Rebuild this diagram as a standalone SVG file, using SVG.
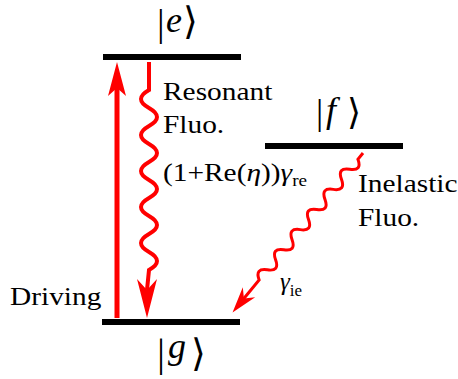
<svg xmlns="http://www.w3.org/2000/svg" width="458" height="379" viewBox="0 0 458 379">
<style>
.lvl{stroke:#000;stroke-width:6;fill:none}
text{font-family:'Liberation Serif','Times New Roman',serif;fill:#000}
.br{font-family:'DejaVu Serif',serif}
.it{font-style:italic}
.lb{font-size:26px}
.red{stroke:#ff0000;fill:none;stroke-linecap:butt}
.head{fill:#ff0000;stroke:none}
</style>
<rect width="458" height="379" fill="#fff"/>
<g id="level-e">
<line class="lvl" x1="103" y1="57" x2="241" y2="57"/>
<text x="157" y="36" font-size="38">|</text>
<text class="it" x="166" y="32" font-size="36">e</text>
<text class="br" x="183" y="34" font-size="38">⟩</text>
</g>
<g id="level-f">
<line class="lvl" x1="265" y1="146" x2="403" y2="146"/>
<text x="316" y="124" font-size="36">|</text>
<text class="it" x="326" y="122" font-size="36">f</text>
<text class="br" x="347" y="124" font-size="36">⟩</text>
</g>
<g id="level-g">
<line class="lvl" x1="102" y1="322" x2="240" y2="322"/>
<text x="157" y="366" font-size="40">|</text>
<text class="it" x="168" y="358" font-size="36">g</text>
<text class="br" x="191" y="366" font-size="38">⟩</text>
</g>
<g id="connectors">
<g id="driving">
<line class="red" x1="117" y1="318" x2="117" y2="88" stroke-width="5"/>
<polygon class="head" points="117,62 126,96 117,88 108,96"/>
</g>
<g id="resonant">
<path class="red" stroke-width="4" d="M149,62 L149,90 q-16,9 0,18 t0,18 t0,18 t0,18 t0,18 t0,18 t0,18 t0,18 t0,18 t0,18 L147,290"/>
<polygon class="head" points="147,318 157,279 147,290 137,279"/>
</g>
<g id="inelastic" transform="translate(363,153) rotate(129.3)">
<path class="red" stroke-width="3" d="M0,0 L8,0 q6.5,-11 13,0 t13,0 t13,0 t13,0 t13,0 t13,0 t13,0 t13,0 t13,0 t13,0 t13,0 t13,0 L190,0"/>
<polygon class="head" points="206,0 180,-8 188,0 180,8"/>
</g>
</g>
<g id="labels">
<text class="lb" transform="translate(163,100) scale(1.13,1)">Resonant</text>
<text class="lb" transform="translate(163,133) scale(1.13,1)">Fluo.</text>
<text class="lb" transform="translate(163,181) scale(1.13,1)">(1+Re(<tspan class="it">η</tspan>))<tspan class="it">γ</tspan><tspan font-size="17" dy="5">re</tspan></text>
<text class="lb" transform="translate(358,192) scale(1.13,1)">Inelastic</text>
<text class="lb" transform="translate(358,226) scale(1.13,1)">Fluo.</text>
<text x="280" y="290" font-size="25"><tspan class="it">γ</tspan><tspan font-size="17" dy="6">ie</tspan></text>
<text class="lb" transform="translate(10,305) scale(1.13,1)">Driving</text>
</g>
</svg>
